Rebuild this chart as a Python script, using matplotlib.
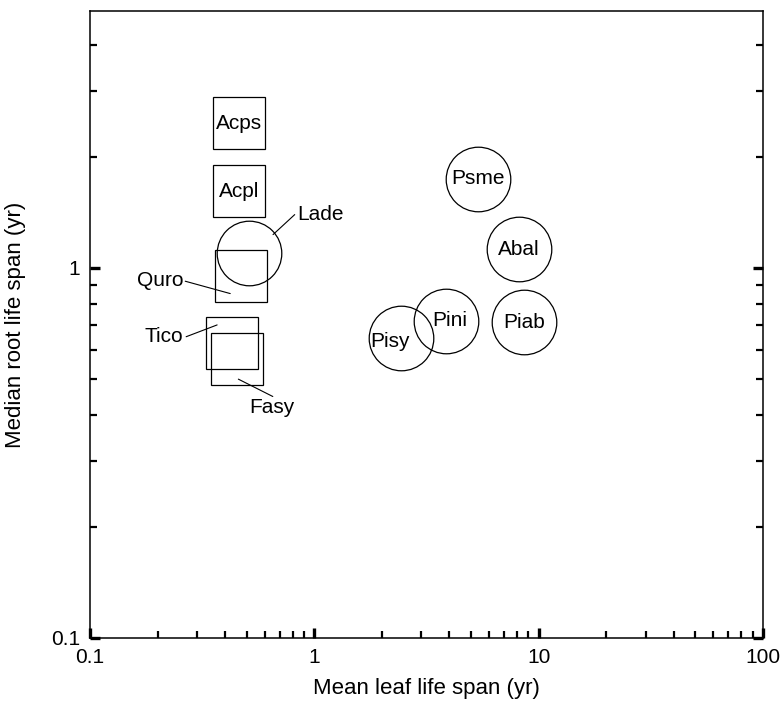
import matplotlib
matplotlib.use('Agg')
import matplotlib.pyplot as plt
from matplotlib.ticker import FixedLocator, NullFormatter, FixedFormatter
from matplotlib.transforms import offset_copy

plt.rcParams['font.family'] = ['Liberation Sans', 'DejaVu Sans']

# deciduous (squares) and evergreen (circles) species
sq_names = ['Acps', 'Acpl', 'Quro', 'Tico', 'Fasy']
sq_leaf = [0.46, 0.46, 0.47, 0.43, 0.45]
sq_root = [2.46, 1.61, 0.95, 0.627, 0.568]

ci_names = ['Lade', 'Psme', 'Abal', 'Piab', 'Pini', 'Pisy']
ci_leaf = [0.51, 5.37, 8.18, 8.6, 3.85, 2.43]
ci_root = [1.10, 1.74, 1.125, 0.714, 0.719, 0.647]

x_major = [0.1, 1, 10, 100]
x_major_labels = ['0.1', '1', '10', '100']
y_major = [0.1, 1]
y_major_labels = ['0.1', '1']

# label placement, in points from marker centre
inside = {'Acps': (0, 0), 'Acpl': (0, 0), 'Psme': (0, 0), 'Abal': (0, 0),
          'Piab': (0, 0), 'Pini': (3, 0.7), 'Pisy': (-7.9, -2.7)}
# name: (line start, line end, text pos, ha)
outside = {'Lade': ((17.5, 13.0), (33.1, 27.4), (34.6, 27.4), 'left'),
           'Quro': ((-7.6, -12.5), (-40.0, -3.6), (-41.4, -3.4), 'right'),
           'Tico': ((-10.8, 13.0), (-33.1, 4.5), (-35.3, 4.5), 'right'),
           'Fasy': ((1.3, -14.6), (26.1, -27.1), (25.6, -35.3), 'center')}

fig = plt.figure(figsize=(7.8, 7.03), dpi=100)
ax = fig.add_axes([0.1154, 0.0925, 0.8628, 0.8919])
ax.set_xscale('log')
ax.set_yscale('log')
ax.set_xlim(0.1, 100)
ax.set_ylim(0.1, 4.95)

ax.plot(sq_leaf, sq_root, ls='none', marker='s', ms=38, mfc='none', mec='black', mew=0.9)
ax.plot(ci_leaf, ci_root, ls='none', marker='o', ms=46.5, mfc='none', mec='black', mew=0.9)

pos = dict(zip(sq_names + ci_names, zip(sq_leaf + ci_leaf, sq_root + ci_root)))
for name, (dx, dy) in inside.items():
    ax.annotate(name, xy=pos[name], xytext=(dx, dy), textcoords='offset points',
                ha='center', va='center', fontsize=15)
for name, (p0, p1, pt, ha) in outside.items():
    tr = offset_copy(ax.transData, fig=fig, x=p0[0], y=p0[1], units='points')
    ax.annotate('', xy=pos[name], xycoords=tr,
                xytext=(p1[0] - p0[0], p1[1] - p0[1]), textcoords='offset points',
                arrowprops=dict(arrowstyle='-', lw=0.8, color='black', shrinkA=0, shrinkB=0))
    ax.annotate(name, xy=pos[name], xytext=pt, textcoords='offset points',
                ha=ha, va='center', fontsize=15)

# ticks
ax.xaxis.set_major_locator(FixedLocator(x_major))
ax.xaxis.set_major_formatter(FixedFormatter(x_major_labels))
ax.xaxis.set_minor_locator(FixedLocator([m * d for d in [0.1, 1, 10] for m in range(2, 10)]))
ax.xaxis.set_minor_formatter(NullFormatter())
ax.yaxis.set_major_locator(FixedLocator(y_major))
ax.yaxis.set_major_formatter(FixedFormatter(y_major_labels))
ax.yaxis.set_minor_locator(FixedLocator([m * d for d in [0.1, 1] for m in range(2, 10)]))
ax.yaxis.set_minor_formatter(NullFormatter())

ax.tick_params(which='both', direction='in', top=False, right=True, labelsize=15)
ax.tick_params(which='major', length=7, width=2.4, pad=7)
ax.tick_params(which='minor', length=5, width=1.6)
for s in ax.spines.values():
    s.set_linewidth(1.1)

ax.set_xlabel('Mean leaf life span (yr)', fontsize=16, labelpad=8)
ax.set_ylabel('Median root life span (yr)', fontsize=16, labelpad=18)

fig.savefig('out.png', dpi=100)
